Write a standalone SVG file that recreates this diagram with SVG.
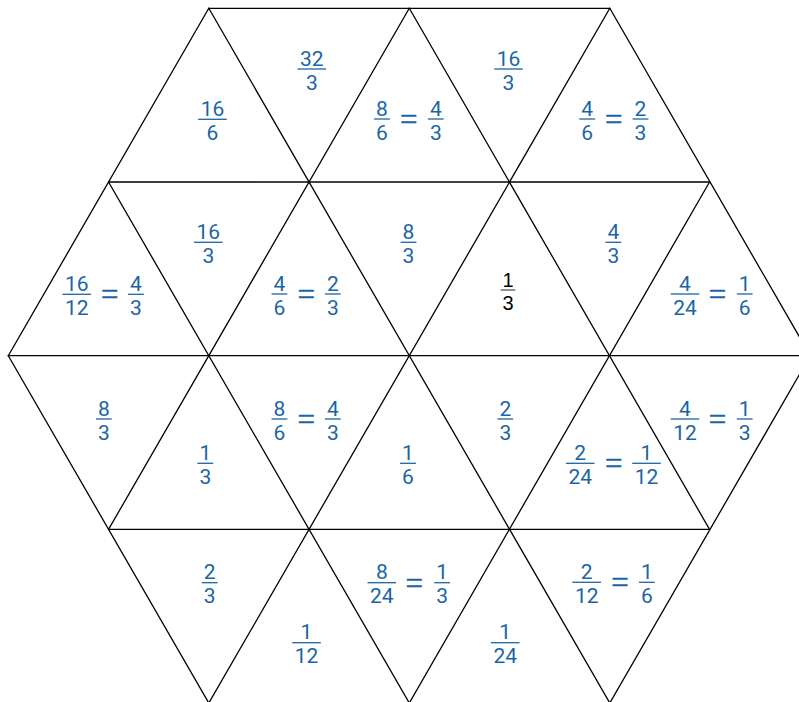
<svg xmlns="http://www.w3.org/2000/svg" width="799" height="702" viewBox="0 0 799 702">
<style>
.bg{fill:#ffffff}
.grid line{stroke:#000000;stroke-width:1.3;stroke-linecap:round}
.f{font-family:Roboto,"Liberation Sans",sans-serif;font-size:21px;fill:#1b65a5;text-anchor:middle}
.b{stroke:#1b65a5;stroke-width:1.3}
.e{font-family:"Liberation Serif",serif;font-size:31px;fill:#1b65a5;stroke:#1b65a5;stroke-width:0.55;text-anchor:middle}
.k{font-family:"Liberation Sans",Arial,sans-serif;font-size:20px;fill:#000000;text-anchor:middle}
.kb{stroke:#555555;stroke-width:1.3}
</style>
<rect class="bg" x="0" y="0" width="799" height="702"/>
<g id="connectors" class="grid">
<line x1="208.8" y1="8.3" x2="609.8" y2="8.3"/>
<line x1="108.55" y1="182" x2="709.55" y2="182"/>
<line x1="8.3" y1="355.7" x2="810.3" y2="355.7"/>
<line x1="108.55" y1="529.4" x2="709.55" y2="529.4"/>
<line x1="208.8" y1="8.3" x2="8.3" y2="355.7"/>
<line x1="409.3" y1="8.3" x2="108.55" y2="529.4"/>
<line x1="609.8" y1="8.3" x2="208.8" y2="703"/>
<line x1="709.55" y1="182" x2="409.3" y2="703"/>
<line x1="810.3" y1="355.7" x2="609.8" y2="703"/>
<line x1="208.8" y1="8.3" x2="609.8" y2="703"/>
<line x1="409.3" y1="8.3" x2="709.55" y2="529.4"/>
<line x1="609.8" y1="8.3" x2="810.3" y2="355.7"/>
<line x1="108.55" y1="182" x2="409.3" y2="703"/>
<line x1="8.3" y1="355.7" x2="208.8" y2="703"/>
</g>
<g id="t1">
<text class="f" x="212.5" y="115.8">16</text><line class="b" x1="198.2" y1="119.3" x2="226.8" y2="119.3"/><text class="f" x="212.5" y="139.8">6</text>
</g>
<g id="t2">
<text class="f" x="311.8" y="65.5">32</text><line class="b" x1="297.5" y1="69" x2="326.1" y2="69"/><text class="f" x="311.8" y="89.5">3</text>
</g>
<g id="t3">
<text class="f" x="382" y="115.5">8</text><line class="b" x1="374.1" y1="119" x2="389.9" y2="119"/><text class="f" x="382" y="139.5">6</text>
<text class="e" x="408.7" y="129.9">=</text>
<text class="f" x="435.8" y="115.5">4</text><line class="b" x1="427.9" y1="119" x2="443.7" y2="119"/><text class="f" x="435.8" y="139.5">3</text>
</g>
<g id="t4">
<text class="f" x="508.5" y="65.5">16</text><line class="b" x1="494.2" y1="69" x2="522.8" y2="69"/><text class="f" x="508.5" y="89.5">3</text>
</g>
<g id="t5">
<text class="f" x="587.2" y="115.5">4</text><line class="b" x1="579.3" y1="119" x2="595.1" y2="119"/><text class="f" x="587.2" y="139.5">6</text>
<text class="e" x="613.7" y="129.9">=</text>
<text class="f" x="640.5" y="115.5">2</text><line class="b" x1="632.6" y1="119" x2="648.4" y2="119"/><text class="f" x="640.5" y="139.5">3</text>
</g>
<g id="t6">
<text class="f" x="76.7" y="290.8">16</text><line class="b" x1="62.4" y1="294.3" x2="91" y2="294.3"/><text class="f" x="76.7" y="314.8">12</text>
<text class="e" x="109.7" y="305.2">=</text>
<text class="f" x="136" y="290.8">4</text><line class="b" x1="128.1" y1="294.3" x2="143.9" y2="294.3"/><text class="f" x="136" y="314.8">3</text>
</g>
<g id="t7">
<text class="f" x="208.3" y="238.8">16</text><line class="b" x1="194" y1="242.3" x2="222.6" y2="242.3"/><text class="f" x="208.3" y="262.8">3</text>
</g>
<g id="t8">
<text class="f" x="279.5" y="290.5">4</text><line class="b" x1="271.6" y1="294" x2="287.4" y2="294"/><text class="f" x="279.5" y="314.5">6</text>
<text class="e" x="306.3" y="304.9">=</text>
<text class="f" x="332.8" y="290.5">2</text><line class="b" x1="324.9" y1="294" x2="340.7" y2="294"/><text class="f" x="332.8" y="314.5">3</text>
</g>
<g id="t9">
<text class="f" x="408.5" y="238.8">8</text><line class="b" x1="400.6" y1="242.3" x2="416.4" y2="242.3"/><text class="f" x="408.5" y="262.8">3</text>
</g>
<g id="t10">
<text class="k" x="508" y="286.7">1</text><line class="kb" x1="500.7" y1="290" x2="515.3" y2="290"/><text class="k" x="508" y="310">3</text>
</g>
<g id="t11">
<text class="f" x="613.3" y="238.8">4</text><line class="b" x1="605.4" y1="242.3" x2="621.2" y2="242.3"/><text class="f" x="613.3" y="262.8">3</text>
</g>
<g id="t12">
<text class="f" x="685" y="290.5">4</text><line class="b" x1="670.7" y1="294" x2="699.3" y2="294"/><text class="f" x="685" y="314.5">24</text>
<text class="e" x="717.5" y="304.9">=</text>
<text class="f" x="744.7" y="290.5">1</text><line class="b" x1="736.8" y1="294" x2="752.6" y2="294"/><text class="f" x="744.7" y="314.5">6</text>
</g>
<g id="t13">
<text class="f" x="103.8" y="415.5">8</text><line class="b" x1="95.9" y1="419" x2="111.7" y2="419"/><text class="f" x="103.8" y="439.5">3</text>
</g>
<g id="t14">
<text class="f" x="205.3" y="459.8">1</text><line class="b" x1="197.4" y1="463.3" x2="213.2" y2="463.3"/><text class="f" x="205.3" y="483.8">3</text>
</g>
<g id="t15">
<text class="f" x="279.5" y="415.5">8</text><line class="b" x1="271.6" y1="419" x2="287.4" y2="419"/><text class="f" x="279.5" y="439.5">6</text>
<text class="e" x="306.3" y="429.9">=</text>
<text class="f" x="332.8" y="415.5">4</text><line class="b" x1="324.9" y1="419" x2="340.7" y2="419"/><text class="f" x="332.8" y="439.5">3</text>
</g>
<g id="t16">
<text class="f" x="408" y="459.8">1</text><line class="b" x1="400.1" y1="463.3" x2="415.9" y2="463.3"/><text class="f" x="408" y="483.8">6</text>
</g>
<g id="t17">
<text class="f" x="505.3" y="415.5">2</text><line class="b" x1="497.4" y1="419" x2="513.2" y2="419"/><text class="f" x="505.3" y="439.5">3</text>
</g>
<g id="t18">
<text class="f" x="580.2" y="459.8">2</text><line class="b" x1="565.9" y1="463.3" x2="594.5" y2="463.3"/><text class="f" x="580.2" y="483.8">24</text>
<text class="e" x="613.7" y="474.2">=</text>
<text class="f" x="646.5" y="459.8">1</text><line class="b" x1="632.2" y1="463.3" x2="660.8" y2="463.3"/><text class="f" x="646.5" y="483.8">12</text>
</g>
<g id="t19">
<text class="f" x="685" y="415.5">4</text><line class="b" x1="670.7" y1="419" x2="699.3" y2="419"/><text class="f" x="685" y="439.5">12</text>
<text class="e" x="717.5" y="429.9">=</text>
<text class="f" x="744.7" y="415.5">1</text><line class="b" x1="736.8" y1="419" x2="752.6" y2="419"/><text class="f" x="744.7" y="439.5">3</text>
</g>
<g id="t20">
<text class="f" x="209.7" y="579.2">2</text><line class="b" x1="201.8" y1="582.7" x2="217.6" y2="582.7"/><text class="f" x="209.7" y="603.2">3</text>
</g>
<g id="t21">
<text class="f" x="306.5" y="639.2">1</text><line class="b" x1="292.2" y1="642.7" x2="320.8" y2="642.7"/><text class="f" x="306.5" y="663.2">12</text>
</g>
<g id="t22">
<text class="f" x="381.8" y="579.2">8</text><line class="b" x1="367.5" y1="582.7" x2="396.1" y2="582.7"/><text class="f" x="381.8" y="603.2">24</text>
<text class="e" x="414.3" y="593.6">=</text>
<text class="f" x="442.2" y="579.2">1</text><line class="b" x1="434.3" y1="582.7" x2="450.1" y2="582.7"/><text class="f" x="442.2" y="603.2">3</text>
</g>
<g id="t23">
<text class="f" x="505.2" y="639.2">1</text><line class="b" x1="490.9" y1="642.7" x2="519.5" y2="642.7"/><text class="f" x="505.2" y="663.2">24</text>
</g>
<g id="t24">
<text class="f" x="586.7" y="578.8">2</text><line class="b" x1="572.4" y1="582.3" x2="601" y2="582.3"/><text class="f" x="586.7" y="602.8">12</text>
<text class="e" x="620" y="593.2">=</text>
<text class="f" x="646.8" y="578.8">1</text><line class="b" x1="638.9" y1="582.3" x2="654.7" y2="582.3"/><text class="f" x="646.8" y="602.8">6</text>
</g>
</svg>
